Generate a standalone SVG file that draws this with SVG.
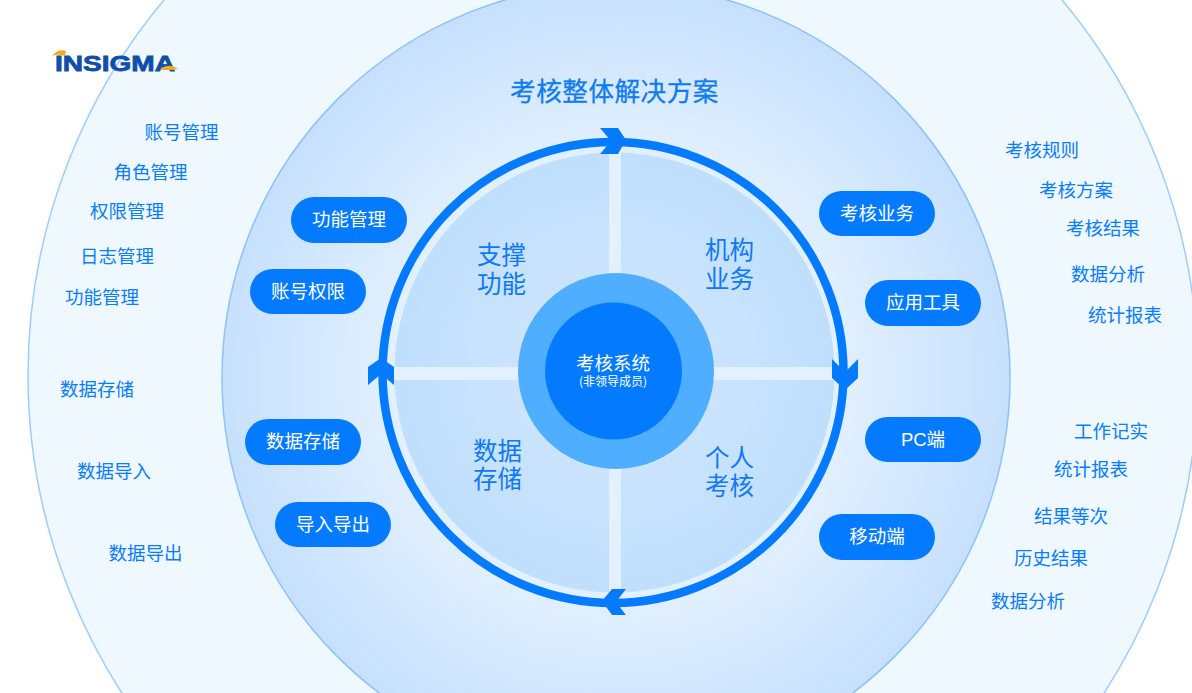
<svg xmlns="http://www.w3.org/2000/svg" width="1192" height="693" viewBox="0 0 1192 693">
<style>
text{font-family:"Noto Sans CJK SC","Liberation Sans",sans-serif;text-anchor:middle}
.o{font-size:18.500px;fill:#0a7dfb}
.p{fill:#047bfe}
.pt{font-size:18.500px;fill:#fff}
.q{font-size:24.500px;fill:#0f78f5}
.a{fill:#047bfe}
</style>
<defs>
<radialGradient id="mid" gradientUnits="userSpaceOnUse" cx="616" cy="378" r="394"><stop offset="0.55" stop-color="#e3f1ff"/><stop offset="1" stop-color="#c6e0fd"/></radialGradient>
<radialGradient id="inn" gradientUnits="userSpaceOnUse" cx="614" cy="372" r="220"><stop offset="0.4" stop-color="#cbe4fe"/><stop offset="1" stop-color="#bfdffd"/></radialGradient>
</defs>
<rect width="1192" height="693" fill="#fff"/>
<g id="bands">
<circle cx="613" cy="375" r="585" fill="#eff7ff" stroke="#9ccdfc" stroke-width="1.500"/>
<circle cx="616" cy="378" r="394" fill="url(#mid)" stroke="#8cc3f8" stroke-width="1.500"/>
<circle cx="614.500" cy="372.500" r="220" fill="url(#inn)"/>
<path d="M609 150h12v444h-12zM394 367h445v13H394z" fill="#e2f0ff"/>
</g>
<g id="title"><text x="614.500" y="101" style="font-family:'Noto Sans CJK SC',serif;font-size:25.600px;fill:#0f7bf0;letter-spacing:.5px;stroke:#0f7bf0;stroke-width:.3px">考核整体解决方案</text></g>
<g id="logo">
<text x="115" y="71" style="font-family:'Liberation Sans',sans-serif;font-weight:700;font-size:22px;fill:#0f4fa8;stroke:#0f4fa8;stroke-width:.8px" textLength="120" lengthAdjust="spacingAndGlyphs">INSIGMA</text>
<path d="M52 56Q58 48 66 51L65 56Q58 53 52 56ZM160 70Q168 62 178 69L172 70Z" fill="#f5a81c"/>
</g>
<g id="connectors" fill="none">
<circle cx="613" cy="372.500" r="230.500" stroke="#047bfe" stroke-width="8.500"/>
<path class="a" d="M600 128H618L626 140L618 154H600L611 141Z" stroke="none"/>
<path class="a" d="M832 359L845 372L858 359V378L845 390L832 378Z" stroke="none"/>
<path class="a" d="M626 589H612L602 601L612 615H626L616 602Z" stroke="none"/>
<path class="a" d="M368 385V367L381 358L394 367V385L381 374Z" stroke="none"/>
</g>
<g id="hub">
<circle cx="616" cy="371" r="98" fill="#4faeff"/>
<circle cx="613.500" cy="371" r="68.500" fill="#047bfe"/>
<text x="613" y="370" style="font-size:18.500px;fill:#fff">考核系统</text>
<text x="613" y="386" style="font-size:12px;fill:#fff">(非领导成员)</text>
</g>
<g id="q1"><text class="q" x="501.500" y="264">支撑</text><text class="q" x="501.500" y="293">功能</text></g>
<g id="q2"><text class="q" x="729.500" y="259">机构</text><text class="q" x="729.500" y="288">业务</text></g>
<g id="q3"><text class="q" x="497.500" y="460">数据</text><text class="q" x="497.500" y="488">存储</text></g>
<g id="q4"><text class="q" x="729.500" y="467">个人</text><text class="q" x="729.500" y="495">考核</text></g>
<g id="p1"><rect class="p" x="291" y="197" width="116" height="46" rx="23"/><text class="pt" x="349" y="226">功能管理</text></g>
<g id="p2"><rect class="p" x="250" y="269" width="116" height="45" rx="22.500"/><text class="pt" x="308" y="298">账号权限</text></g>
<g id="p3"><rect class="p" x="245" y="419" width="116" height="46" rx="23"/><text class="pt" x="303" y="448">数据存储</text></g>
<g id="p4"><rect class="p" x="275" y="502" width="116" height="45" rx="22.500"/><text class="pt" x="333" y="531">导入导出</text></g>
<g id="p5"><rect class="p" x="819" y="191" width="116" height="45" rx="22.500"/><text class="pt" x="877" y="220">考核业务</text></g>
<g id="p6"><rect class="p" x="865" y="280" width="116" height="46" rx="23"/><text class="pt" x="923" y="309">应用工具</text></g>
<g id="p7"><rect class="p" x="865" y="417" width="116" height="45" rx="22.500"/><text class="pt" x="923" y="446" style="font-family:'Liberation Sans','Noto Sans CJK SC',sans-serif">PC端</text></g>
<g id="p8"><rect class="p" x="819" y="514" width="116" height="46" rx="23"/><text class="pt" x="877" y="543">移动端</text></g>
<g id="outer-left">
<text class="o" x="181.500" y="139">账号管理</text>
<text class="o" x="150.500" y="179">角色管理</text>
<text class="o" x="127" y="218">权限管理</text>
<text class="o" x="117" y="263">日志管理</text>
<text class="o" x="102" y="304">功能管理</text>
<text class="o" x="97" y="396">数据存储</text>
<text class="o" x="114" y="478">数据导入</text>
<text class="o" x="145.500" y="560">数据导出</text>
</g>
<g id="outer-right">
<text class="o" x="1042" y="157">考核规则</text>
<text class="o" x="1076" y="197">考核方案</text>
<text class="o" x="1103" y="235">考核结果</text>
<text class="o" x="1108" y="281">数据分析</text>
<text class="o" x="1125" y="322">统计报表</text>
<text class="o" x="1111" y="438">工作记实</text>
<text class="o" x="1091" y="476">统计报表</text>
<text class="o" x="1071" y="523">结果等次</text>
<text class="o" x="1051" y="565">历史结果</text>
<text class="o" x="1028" y="608">数据分析</text>
</g>
</svg>
